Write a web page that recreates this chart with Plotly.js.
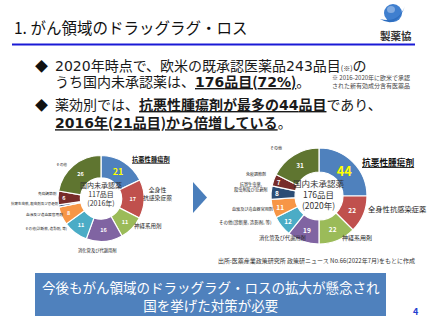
<!DOCTYPE html>
<html><head><meta charset="utf-8">
<script src="https://cdn.plot.ly/plotly-3.0.1.min.js"></script>
<style>html,body{margin:0;padding:0;background:#fff}#c{width:427px;height:320px}</style>
</head><body><div id="c"></div>
<script>
const categories = ['抗悪性腫瘍剤','全身性抗感染症薬','神経系用剤','消化管及び代謝用剤','その他(診断薬, 造影剤, 等)','血液及び造血器官用剤','抗寄生虫薬, 殺虫剤及び忌避剤','免疫調節剤','その他'];
const values2016 = [21,17,11,16,11,8,1,6,26];
const values2020 = [44,22,22,19,12,11,8,7,31];
const total2016 = 117, total2020 = 176;
const colors = ['#4F81BD','#C0504D','#9BBB59','#8064A2','#4BACC6','#F79646','#2C4D75','#772C2A','#5F7530'];

const W = 427, H = 320;
const F = '"Noto Sans CJK JP", "Noto Sans", sans-serif';
function dom(cx, cy, r){ return {x:[(cx-r)/W,(cx+r)/W], y:[1-(cy+r)/H, 1-(cy-r)/H]}; }
function dg(s){ return s.replace(/([0-9%]+)/g, '<span style="font-family:\'DejaVu Sans\'">$1</span>'); }

const pieL = {
  type:'pie', values: values2016, labels: categories, sort:false, direction:'clockwise', rotation:0,
  hole:0.48, domain: dom(101,198.5,43),
  marker:{colors: colors, line:{color:'#fff', width:1.2}},
  texttemplate: values2016.map(v => v < 3 ? '' : '%{value}'),
  textposition:'inside', insidetextorientation:'horizontal',
  textfont:{family:F, color: values2016.map((v,i)=> i===0 ? '#FFFF00' : '#fff'), size: values2016.map((v,i)=> i===0 ? 9 : 5.5), weight:'bold'},
  hoverinfo:'none', showlegend:false
};
const pieR = {
  type:'pie', values: values2020, labels: categories, sort:false, direction:'clockwise', rotation:0,
  hole:0.5, domain: dom(319,196,48),
  marker:{colors: colors, line:{color:'#fff', width:1.2}},
  texttemplate: '%{value}',
  textposition:'inside', insidetextorientation:'horizontal',
  textfont:{family:F, color: values2020.map((v,i)=> i===0 ? '#FFFF00' : '#fff'), size: values2020.map((v,i)=> i===0 ? 18 : 6.5), weight:'bold'},
  hoverinfo:'none', showlegend:false
};

function A(x, y, text, size, opts){
  return Object.assign({xref:'x', yref:'y', x:x, y:y, text:text, showarrow:false,
    font:{family:F, size:size, color:'#1a1a1a'}, xanchor:'left', yanchor:'middle'}, opts||{});
}
const BF = 14;
const ann = [
  A(12, 27, '1. がん領域のドラッグラグ・ロス', 15.5, {font:{family:F,size:15.5,color:'#111'}}),
  A(396, 35, '<b>製薬協</b>', 10.5, {xanchor:'center', font:{family:F,size:10.5,color:'#333'}}),
  A(41, 65, '◆', 13, {xanchor:'center', font:{family:F,size:13,color:'#111'}}),
  A(53, 65, dg('2020年時点で、欧米の既承認医薬品243品目') + '<span style="font-size:7px">(※)</span>の', BF),
  A(53, 81, 'うち国内未承認薬は、<b><u>' + dg('176品目(72%)') + '</u></b>。', BF),
  A(412, 81, '※ 2016-2020年に欧米で承認<br>された新有効成分含有医薬品', 6, {xanchor:'right', align:'right', font:{family:F,size:6,color:'#444'}}),
  A(41, 104, '◆', 13, {xanchor:'center', font:{family:F,size:13,color:'#111'}}),
  A(53, 112.5, '薬効別では、<b><u>' + dg('抗悪性腫瘍剤が最多の44品目') + '</u></b>であり、<br><b><u>' + dg('2016年(21品目)から倍増している') + '</u></b>。', BF, {align:'left'}),
  // left pie center + labels
  A(101, 194, '国内未承認薬<br>' + total2016 + '品目<br>(2016年)', 7, {xanchor:'center', font:{family:F,size:7,color:'#333'}}),
  A(130, 159, '<b><u>' + categories[0] + '</u></b>', 6.3, {font:{family:F,size:6.3,color:'#111'}}),
  A(157, 193, '全身性<br>抗感染症薬', 5.8, {xanchor:'center', font:{family:F,size:5.8,color:'#222'}}),
  A(148, 226, categories[2], 5.5, {xanchor:'center', font:{family:F,size:5.5,color:'#222'}}),
  A(97, 250, categories[3], 4.3, {xanchor:'center', font:{family:F,size:4.3,color:'#222'}}),
  A(69, 228, categories[4], 3.6, {xanchor:'right', font:{family:F,size:3.6,color:'#222'}}),
  A(65, 214, categories[5], 3.7, {xanchor:'right', font:{family:F,size:3.7,color:'#222'}}),
  A(61, 203, categories[6], 3.5, {xanchor:'right', font:{family:F,size:3.5,color:'#222'}}),
  A(59, 193, categories[7], 3.7, {xanchor:'right', font:{family:F,size:3.7,color:'#222'}}),
  A(69, 164, categories[8], 3.7, {xanchor:'right', font:{family:F,size:3.7,color:'#222'}}),
  // right pie center + labels
  A(319, 194, '国内未承認薬<br>' + total2020 + '品目<br>(2020年)', 8.5, {xanchor:'center', font:{family:F,size:8.5,color:'#333'}}),
  A(360, 162, '<b><u>' + categories[0] + '</u></b>', 8.7, {font:{family:F,size:8.7,color:'#111'}}),
  A(366, 209, categories[1], 7.3, {font:{family:F,size:7.3,color:'#222'}}),
  A(357, 237, categories[2], 6, {xanchor:'center', font:{family:F,size:6,color:'#222'}}),
  A(282, 238, categories[3], 5.2, {xanchor:'center', font:{family:F,size:5.2,color:'#222'}}),
  A(274, 222, categories[4], 4.5, {xanchor:'right', font:{family:F,size:4.5,color:'#222'}}),
  A(275, 209, categories[5], 4.1, {xanchor:'right', font:{family:F,size:4.1,color:'#222'}}),
  A(251, 187, '抗寄生虫薬,<br>殺虫剤及び忌避剤', 4.2, {xanchor:'center', font:{family:F,size:4.2,color:'#222'}}),
  A(268, 174, categories[7], 4, {xanchor:'right', font:{family:F,size:4,color:'#222'}}),
  A(284, 148, categories[8], 4, {xanchor:'right', font:{family:F,size:4,color:'#222'}}),
  // source & box
  A(417, 260, '出所:医薬産業政策研究所 政策研ニュース No.66(2022年7月)をもとに作成', 6, {xanchor:'right', font:{family:F,size:6,color:'#333'}}),
  A(211, 295.5, '今後もがん領域のドラッグラグ・ロスの拡大が懸念され<br>国を挙げた対策が必要', 13.5, {xanchor:'center', align:'center', font:{family:F,size:13.5,color:'#fff'}}),
  A(416, 311, '<b>4</b>', 9, {xanchor:'center', font:{family:F,size:9,color:'#1f3fd0'}})
];

const shapes = [
  {type:'line', xref:'x', yref:'y', x0:12, x1:415, y0:44.5, y1:44.5, line:{color:'#1a1ad6', width:2.2}},
  {type:'circle', xref:'x', yref:'y', x0:384, x1:402, y0:4, y1:22, fillcolor:'#3f7fcf', line:{width:0}},
  {type:'circle', xref:'x', yref:'y', x0:387, x1:395, y0:6, y1:13, fillcolor:'rgba(255,255,255,0.35)', line:{width:0}},
  {type:'path', xref:'x', yref:'y', path:'M 380 19 Q 398 30 406 3 Q 400 24 380 19 Z', fillcolor:'#2f6fc0', line:{width:0}},
  {type:'path', xref:'x', yref:'y', path:'M 193 182 L 207 197.5 L 193 213 Z', fillcolor:'#4a7ebb', line:{width:0}},
  {type:'rect', xref:'x', yref:'y', x0:35, x1:386, y0:273, y1:316, fillcolor:'#4f81bd', line:{width:0}, layer:'below'}
];

const layout = {
  width:W, height:H, margin:{l:0,r:0,t:0,b:0}, paper_bgcolor:'#fff', plot_bgcolor:'rgba(0,0,0,0)',
  xaxis:{range:[0,W], visible:false, fixedrange:true},
  yaxis:{range:[H,0], visible:false, fixedrange:true},
  annotations: ann, shapes: shapes, font:{family:F}
};
Plotly.newPlot('c', [pieL, pieR], layout, {staticPlot:true, displayModeBar:false});
</script></body></html>
